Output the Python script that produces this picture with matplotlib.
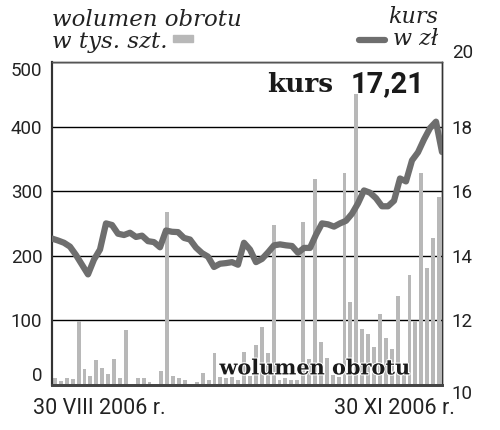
import numpy as np
import matplotlib
matplotlib.use("Agg")
from matplotlib import pyplot as plt
from matplotlib.patches import Rectangle
from matplotlib.lines import Line2D
import matplotlib.patheffects as pe

# wolumen obrotu w tys. szt. (one bar per session, 30 VIII - 30 XI 2006)
wolumen = [11, 6, 11, 9, 99, 25, 14, 39, 26, 17,
           40, 11, 85, 2, 11, 11, 4, 2, 21, 268,
           14, 11, 7, 2, 5, 18, 8, 49, 12, 11,
           12, 8, 51, 13, 62, 89, 50, 247, 8, 10,
           8, 8, 252, 40, 319, 66, 41, 15, 12, 328,
           128, 451, 87, 78, 58, 110, 72, 55, 137, 15,
           170, 99, 328, 181, 228, 291]

# kurs w zl
kurs = [14.53, 14.47, 14.40, 14.28, 14.02, 13.72, 13.42, 13.88, 14.19, 15.00,
        14.95, 14.68, 14.64, 14.71, 14.58, 14.62, 14.45, 14.42, 14.26, 14.78,
        14.74, 14.73, 14.55, 14.50, 14.25, 14.08, 13.97, 13.65, 13.75, 13.77,
        13.80, 13.72, 14.40, 14.19, 13.80, 13.90, 14.10, 14.32, 14.35, 14.32,
        14.30, 14.09, 14.24, 14.24, 14.65, 15.00, 14.97, 14.90, 15.00, 15.08,
        15.30, 15.62, 16.02, 15.95, 15.78, 15.53, 15.53, 15.70, 16.39, 16.30,
        16.95, 17.20, 17.60, 17.95, 18.15, 17.21]

vol_ticks = [0, 100, 200, 300, 400, 500]
kurs_ticks = [10, 12, 14, 16, 18, 20]
date_labels = ["30 VIII 2006 r.", "30 XI 2006 r."]

bar_col = "#b8b8b8"
line_col = "#6e6e6e"
txt_col = "#222222"
num_font = "Roboto"

fig = plt.figure(figsize=(5, 4.3), dpi=100)
ax = fig.add_axes([0.104, 0.105, 0.78, 0.751])
ax2 = ax.twinx()

x = np.arange(len(wolumen))
ax.bar(x, wolumen, width=0.66, color=bar_col, zorder=2)
ax.set_xlim(-0.5, len(wolumen) - 0.5)
ax.set_ylim(0, 500)
ax.set_yticks(vol_ticks)
ax.set_xticks([])
ax.grid(axis="y", color="black", lw=1, zorder=1)
ax.set_axisbelow(True)

xl = np.linspace(-0.5, len(wolumen) - 0.5, len(kurs))
ax2.plot(xl, kurs, color=line_col, lw=4.5, solid_capstyle="round",
         solid_joinstyle="round", zorder=3)
ax2.set_ylim(10, 20)
ax2.set_yticks(kurs_ticks)

for a in (ax, ax2):
    a.tick_params(length=0, labelsize=13.5, labelcolor=txt_col, pad=7)
    for lab in a.get_yticklabels():
        lab.set_fontfamily(num_font)
    a.spines["left"].set_color("#333333")
    a.spines["left"].set_linewidth(1.5)
    a.spines["bottom"].set_color("#444444")
    a.spines["bottom"].set_linewidth(2)
    a.spines["top"].set_color("#555555")
    a.spines["top"].set_linewidth(1)
    a.spines["right"].set_color("#333333")
    a.spines["right"].set_linewidth(1)

# outer labels nudged inside / outside as in the print
lt = ax.yaxis.get_major_ticks()
lt[0].label1.set_va("bottom")
lt[-1].label1.set_va("top")
rt = ax2.yaxis.get_major_ticks()
rt[0].label2.set_va("top")
rt[-1].label2.set_va("bottom")

# date labels
ax.text(-0.049, -0.04, date_labels[0], transform=ax.transAxes, ha="left",
        va="top", fontsize=15.5, color=txt_col, family=num_font)
ax.text(1.033, -0.04, date_labels[1], transform=ax.transAxes, ha="right",
        va="top", fontsize=15.5, color=txt_col, family=num_font)

# in-plot labels
ax2.text(0.955, 0.975, "17,21", transform=ax.transAxes, ha="right", va="top",
         fontsize=21, fontweight="bold", color="#1a1a1a", family=num_font,
         zorder=5)
ax2.text(0.72, 0.968, "kurs", transform=ax.transAxes, ha="right", va="top",
         fontsize=19, fontweight="bold", color="#1a1a1a", family="DejaVu Serif",
         zorder=5)
ax2.text(0.92, 0.02, "wolumen obrotu", transform=ax.transAxes, ha="right",
         va="bottom", fontsize=15, fontweight="bold", color="#1a1a1a",
         family="DejaVu Serif", zorder=5,
         path_effects=[pe.withStroke(linewidth=1.5, foreground="white")])

# header legends
fig.text(0.104, 0.98, "wolumen obrotu", ha="left", va="top", fontsize=16.5,
         style="italic", family="DejaVu Serif", color="#222222")
fig.text(0.104, 0.928, "w tys. szt.", ha="left", va="top", fontsize=16.5,
         style="italic", family="DejaVu Serif", color="#222222")
fig.add_artist(Rectangle((0.345, 0.902), 0.04, 0.016, transform=fig.transFigure,
                         color=bar_col))
fig.text(0.876, 0.985, "kurs", ha="right", va="top", fontsize=16,
         style="italic", family="DejaVu Serif", color="#222222")
fig.text(0.876, 0.935, "w zł", ha="right", va="top", fontsize=16,
         style="italic", family="DejaVu Serif", color="#222222")
fig.add_artist(Line2D([0.718, 0.77], [0.907, 0.907], transform=fig.transFigure,
                      color=line_col, lw=4.5, solid_capstyle="round"))

fig.savefig("out.png", dpi=100)
